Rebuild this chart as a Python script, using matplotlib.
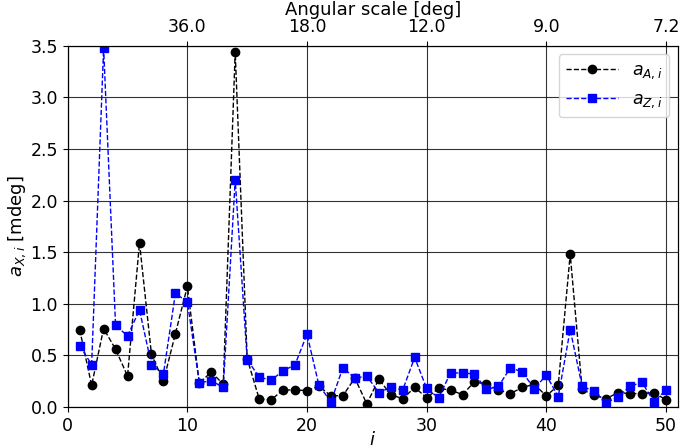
import matplotlib
matplotlib.use('Agg')
import matplotlib.pyplot as plt
import numpy as np

# mode index
i_vals = np.arange(1, 51)

a_A = [0.75, 0.21, 0.76, 0.56, 0.30, 1.59, 0.51, 0.25, 0.71, 1.17,
       0.23, 0.34, 0.22, 3.44, 0.47, 0.08, 0.07, 0.165, 0.165, 0.16,
       0.20, 0.11, 0.11, 0.28, 0.03, 0.27, 0.12, 0.08, 0.19, 0.09,
       0.18, 0.165, 0.12, 0.245, 0.22, 0.165, 0.13, 0.19, 0.22, 0.107,
       0.21, 1.48, 0.17, 0.115, 0.08, 0.14, 0.13, 0.13, 0.14, 0.07]

a_Z = [0.595, 0.41, 3.48, 0.79, 0.69, 0.94, 0.41, 0.32, 1.10, 1.02,
       0.235, 0.255, 0.19, 2.20, 0.46, 0.29, 0.26, 0.35, 0.41, 0.705,
       0.21, 0.05, 0.38, 0.28, 0.30, 0.14, 0.19, 0.165, 0.48, 0.18,
       0.09, 0.33, 0.33, 0.32, 0.17, 0.20, 0.38, 0.34, 0.175, 0.31,
       0.10, 0.75, 0.20, 0.155, 0.04, 0.10, 0.20, 0.24, 0.05, 0.165]

top_ticks = [10, 20, 30, 40, 50]

fig = plt.figure(figsize=(6.91, 4.46), dpi=100)
ax = fig.add_axes([0.098, 0.0874, 0.883, 0.81])

ax.plot(i_vals, a_A, linestyle='--', color='k', marker='o', markersize=6,
        linewidth=1, label=r'$a_{A,i}$')
ax.plot(i_vals, a_Z, linestyle='--', color='b', marker='s', markersize=6,
        linewidth=1, label=r'$a_{Z,i}$')

ax.set_xlim(0, 51)
ax.set_ylim(0, 3.5)
ax.set_yticks(np.arange(0, 3.51, 0.5))
ax.set_xlabel(r'$i$', fontsize=13, labelpad=-3)
ax.set_ylabel(r'$a_{X,i}$ [mdeg]', fontsize=13, labelpad=2)
ax.tick_params(labelsize=12.5)
ax.grid(True, color='k', linewidth=0.8, alpha=0.8)

ax2 = ax.twiny()
ax2.set_xlim(ax.get_xlim())
ax2.set_xticks(top_ticks)
ax2.set_xticklabels(['%.1f' % (360.0 / t) for t in top_ticks])
ax2.set_xlabel('Angular scale [deg]', fontsize=13, labelpad=2)
ax2.tick_params(labelsize=12.5)

ax.legend(loc='upper right', numpoints=1, fontsize=12.5, handlelength=3.0)

fig.savefig('out.png', dpi=100)
